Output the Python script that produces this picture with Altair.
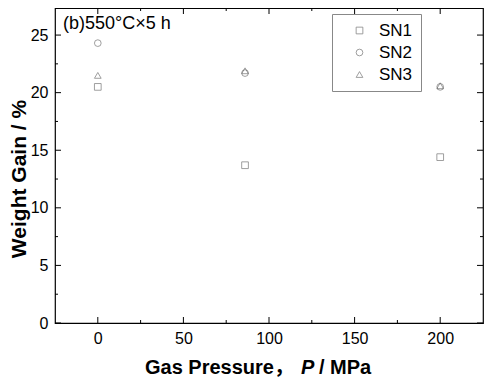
import altair as alt
import pandas as pd

series = ["SN1", "SN2", "SN3"]
pressure = [0, 86, 200]
sn1 = [20.5, 13.7, 14.4]
sn2 = [24.3, 21.7, 20.5]
sn3 = [21.5, 21.9, 20.6]

x_major = [0, 50, 100, 150, 200]
x_minor = [25, 75, 125, 175]
y_major = [0, 5, 10, 15, 20, 25]
y_minor = [2.5, 7.5, 12.5, 17.5, 22.5]

FONT = "Liberation Sans"
TFONT = "Liberation Sans, Noto Sans CJK SC"
W, H = 428, 315

rows = []
for name, vals in zip(series, [sn1, sn2, sn3]):
    for p, v in zip(pressure, vals):
        rows.append({"series": name, "P": p, "gain": v})
df = pd.DataFrame(rows)

xs = alt.Scale(domain=[-25, 225], nice=False, zero=False)
ys = alt.Scale(domain=[0, 27.35], nice=False, zero=False)

points = alt.Chart(df).mark_point(filled=False, strokeWidth=0.8, size=45, color="#555").encode(
    x=alt.X("P:Q", scale=xs, axis=alt.Axis(
        values=x_major, ticks=False, domain=False, grid=False, labelFontSize=16, labelFont=FONT,
        labelColor="black", labelPadding=7, title=None)),
    y=alt.Y("gain:Q", scale=ys, axis=alt.Axis(
        values=y_major, ticks=False, domain=False, grid=False, labelFontSize=16, labelFont=FONT,
        labelColor="black", labelPadding=7, title=None)),
    shape=alt.Shape("series:N", scale=alt.Scale(domain=series, range=["square", "circle", "triangle-up"]),
                    legend=alt.Legend(title=None, orient="none", legendX=277, legendY=6,
                                      labelFontSize=17, labelFont=FONT, labelColor="black",
                                      symbolSize=45, symbolStrokeColor="#555", symbolStrokeWidth=0.8,
                                      symbolFillColor="transparent",
                                      strokeColor="#888", padding=8, rowPadding=4,
                                      labelOffset=11, symbolOffset=11)),
)

def xticks(vals, length):
    d = pd.DataFrame({"v": vals})
    b = alt.Chart(d).mark_rule(color="black", strokeWidth=1).encode(
        x=alt.X("v:Q", scale=xs), y=alt.value(H), y2=alt.value(H - length))
    t = alt.Chart(d).mark_rule(color="black", strokeWidth=1).encode(
        x=alt.X("v:Q", scale=xs), y=alt.value(0), y2=alt.value(length))
    return b + t

def yticks(vals, length):
    d = pd.DataFrame({"v": vals})
    l = alt.Chart(d).mark_rule(color="black", strokeWidth=1).encode(
        y=alt.Y("v:Q", scale=ys), x=alt.value(0), x2=alt.value(length))
    r = alt.Chart(d).mark_rule(color="black", strokeWidth=1).encode(
        y=alt.Y("v:Q", scale=ys), x=alt.value(W), x2=alt.value(W - length))
    return l + r

def text(t, x, y, size, weight="normal", style="normal", angle=0, align="left",
         font=FONT, baseline="alphabetic"):
    return alt.Chart(pd.DataFrame({"t": [t]})).mark_text(
        font=font, fontSize=size, fontWeight=weight, fontStyle=style, angle=angle,
        align=align, baseline=baseline, color="black").encode(
        text="t:N", x=alt.value(x), y=alt.value(y))

label = text("(b)550°C×5 h", 8, 21, 18)
xt1 = text("Gas Pressure，", 90, 366, 20, weight="bold", font=TFONT)
xt2 = text("P", 246, 366, 20, weight="bold", style="italic")
xt3 = text("/ MPa", 264, 366, 20, weight="bold")
yt = text("Weight Gain / %", -46, 171, 21, weight="bold", angle=270, align="center",
          baseline="top")

chart = alt.layer(
    points, xticks(x_major, 6), xticks(x_minor, 3), yticks(y_major, 6), yticks(y_minor, 3),
    label, xt1, xt2, xt3, yt
).properties(
    width=W, height=H,
    autosize=alt.AutoSizeParams(type="none"),
    padding={"left": 47, "top": 0, "right": 9, "bottom": 58},
).configure_view(stroke="black", strokeWidth=1.2)

chart.save("out.html", embed_options={"renderer": "svg", "actions": False})
